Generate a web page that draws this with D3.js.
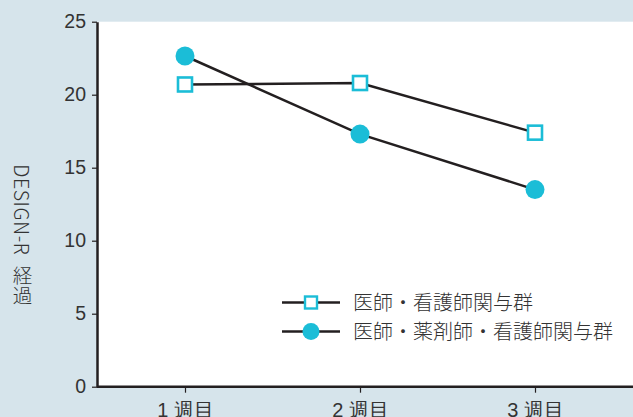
<!DOCTYPE html>
<html lang="ja">
<head>
  <meta charset="UTF-8">
  <title>DESIGN-R 経過</title>
  <style>
    body { margin: 0; background: #d6e4eb; }
    svg { display: block; font-family: "Noto Sans CJK JP", "Noto Sans", sans-serif; }
    .axis text { fill: #333; font-size: 19.5px; font-weight: 300; }
    .axis path, .axis line { stroke: #231f20; }
  </style>
</head>
<body>
  <svg width="633" height="417"></svg>
  <script src="https://cdn.jsdelivr.net/npm/d3@7"></script>
  <script>
    var weeks = ['1 週目', '2 週目', '3 週目']
    var seriesNames = ['医師・看護師関与群', '医師・薬剤師・看護師関与群']
    var doctorNurse = [20.7, 20.8, 17.4]
    var doctorPharmNurse = [22.65, 17.3, 13.5]
    var yTicks = [0, 5, 10, 15, 20, 25]

    var cyan = '#1bbdd7'
    var dark = '#231f20'

    var svg = d3.select('svg')
    var plotLeft = 97, plotTop = 21.7, plotBottom = 386.7, plotRight = 633

    svg.append('rect')
      .attr('x', plotLeft).attr('y', plotTop)
      .attr('width', plotRight - plotLeft).attr('height', plotBottom - plotTop)
      .attr('fill', '#fff')

    var x = d3.scalePoint().domain(weeks).range([185, 535])
    var y = d3.scaleLinear().domain([0, 25]).range([plotBottom, plotTop])

    var gy = svg.append('g')
      .attr('class', 'axis')
      .attr('transform', 'translate(' + plotLeft + ',0)')
      .call(d3.axisLeft(y).tickValues(yTicks).tickSize(5).tickPadding(6).tickSizeOuter(0))
    gy.select('.domain').attr('stroke-width', 2.5)
    gy.selectAll('.tick line').attr('stroke-width', 1.2)

    var gx = svg.append('g')
      .attr('class', 'axis')
      .attr('transform', 'translate(0,' + plotBottom + ')')
      .call(d3.axisBottom(x).tickSize(6).tickPadding(10).tickSizeOuter(0))
    gx.select('.domain').attr('d', 'M' + plotLeft + ',0H' + plotRight).attr('stroke-width', 2.5)
    gx.selectAll('.tick line').attr('stroke-width', 1.2)
    gx.selectAll('.tick text').style('font-size', '20px')

    svg.append('text')
      .attr('x', 22.5).attr('y', 235)
      .attr('text-anchor', 'middle')
      .style('writing-mode', 'vertical-rl')
      .style('text-orientation', 'mixed')
      .style('letter-spacing', '0.6px')
      .attr('fill', '#333')
      .attr('font-size', 19.5)
      .attr('font-weight', 300)
      .text('DESIGN-R\u2002経過')

    var line = d3.line()
      .x(function(d, i) { return x(weeks[i]) })
      .y(function(d) { return y(d) })

    svg.append('path').datum(doctorNurse)
      .attr('d', line).attr('fill', 'none')
      .attr('stroke', dark).attr('stroke-width', 2.5)
    svg.append('path').datum(doctorPharmNurse)
      .attr('d', line).attr('fill', 'none')
      .attr('stroke', dark).attr('stroke-width', 2.5)

    svg.selectAll('.sq').data(doctorNurse).enter().append('rect')
      .attr('class', 'sq')
      .attr('x', function(d, i) { return x(weeks[i]) - 7 })
      .attr('y', function(d) { return y(d) - 7 })
      .attr('width', 14).attr('height', 14)
      .attr('fill', '#fff').attr('stroke', cyan).attr('stroke-width', 2.6)

    svg.selectAll('.dot').data(doctorPharmNurse).enter().append('circle')
      .attr('class', 'dot')
      .attr('cx', function(d, i) { return x(weeks[i]) })
      .attr('cy', function(d) { return y(d) })
      .attr('r', 9.5)
      .attr('fill', cyan)

    // legend
    var lg = svg.append('g').attr('transform', 'translate(282,0)')
    var rows = [302.5, 331.5]
    rows.forEach(function(ry, i) {
      lg.append('line').attr('x1', 0).attr('x2', 58).attr('y1', ry).attr('y2', ry)
        .attr('stroke', dark).attr('stroke-width', 2.5)
      if (i === 0) {
        lg.append('rect').attr('x', 29 - 6).attr('y', ry - 6).attr('width', 12).attr('height', 12)
          .attr('fill', '#fff').attr('stroke', cyan).attr('stroke-width', 2.4)
      } else {
        lg.append('circle').attr('cx', 29).attr('cy', ry).attr('r', 8.5).attr('fill', cyan)
      }
      lg.append('text').attr('x', 71).attr('y', ry).attr('dy', '0.35em')
        .attr('fill', '#333').attr('font-size', 20).attr('font-weight', 300)
        .text(seriesNames[i])
    })
  </script>
</body>
</html>
